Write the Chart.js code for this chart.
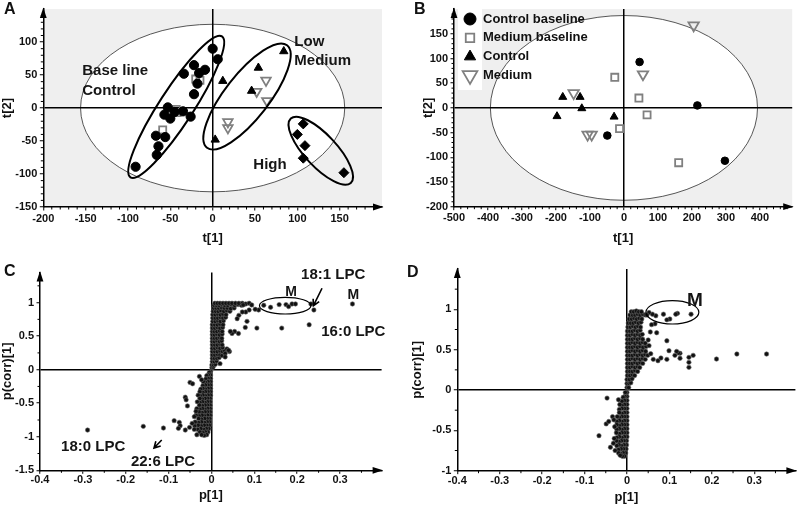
<!DOCTYPE html>
<html><head><meta charset="utf-8">
<script src="https://cdn.jsdelivr.net/npm/chart.js@4.4.0/dist/chart.umd.min.js"></script>
<style>
html,body{margin:0;padding:0;background:#fff;}
#wrap{position:relative;width:800px;height:508px;overflow:hidden;background:#fff;}
canvas{position:absolute;}
</style></head><body>
<div id="wrap">
<canvas id="cA" width="400" height="254" style="left:0;top:0;width:400px;height:254px"></canvas>
<canvas id="cB" width="400" height="254" style="left:400px;top:0;width:400px;height:254px"></canvas>
<canvas id="cC" width="400" height="254" style="left:0;top:254px;width:400px;height:254px"></canvas>
<canvas id="cD" width="400" height="254" style="left:400px;top:254px;width:400px;height:254px"></canvas>
</div>
<script>
// ---------- Panel A (scores t[1] / t[2]) ----------
const aCtrlBase = [[0,90],[6,74],[-9,58],[-22,65],[-16,53],[-34,52],[-18,37],[-22,21],[-53,1],[-57,-10],[-50,-16],[-35,-5],[-26,-13],[-45,-6],[-67,-42],[-56,-44],[-64,-58],[-66,-71],[-91,-89]];
const aMedBase = [[-20,44],[-15,42],[-43,-2],[-42,-7],[-59,-33]];
const aCtrl = [[84,86],[54,61],[12,41],[46,26],[3,-48]];
const aMed = [[63,42],[52,25],[64,11],[18,-21],[18,-30]];
const aHigh = [[107,-24],[100,-40],[109,-57],[107,-76],[155,-98]];
const aXTicks = [-200,-150,-100,-50,0,50,100,150];
const aYTicks = [-150,-100,-50,0,50,100];

// ---------- Panel B ----------
const bLegend = ['Control baseline','Medium baseline','Control','Medium'];
const bCtrlBase = [[46,93],[216,5],[297,-107],[-49,-56]];
const bMedBase = [[-27,62],[44,20],[68,-14],[-13,-42],[161,-111]];
const bCtrl = [[-180,22],[-129,22],[-124,-1],[-197,-17],[-29,-18]];
const bMed = [[205,167],[56,68],[-148,30],[-107,-54],[-95,-54]];
const bXTicks = [-500,-400,-300,-200,-100,0,100,200,300,400];
const bYTicks = [-200,-150,-100,-50,0,50,100,150];

// ---------- Panel C (loadings p[1] / p(corr)[1]) ----------
const cUpper = [
[0.001,0.03],[0.004,0.04],
[0.001,0.07],[0.005,0.07],[0.009,0.08],
[0.002,0.12],[0.007,0.12],[0.012,0.13],
[0.002,0.17],[0.007,0.17],[0.013,0.17],[0.018,0.18],
[0.002,0.22],[0.008,0.22],[0.014,0.23],[0.020,0.22],[0.025,0.21],
[0.002,0.27],[0.008,0.27],[0.014,0.27],[0.020,0.28],[0.026,0.27],[0.031,0.28],
[0.002,0.32],[0.008,0.32],[0.014,0.33],[0.020,0.32],[0.026,0.33],
[0.002,0.37],[0.008,0.37],[0.014,0.37],[0.020,0.38],[0.025,0.37],
[0.002,0.42],[0.007,0.42],[0.013,0.43],[0.019,0.42],[0.024,0.43],
[0.002,0.47],[0.007,0.47],[0.013,0.47],[0.019,0.48],[0.024,0.47],
[0.002,0.52],[0.007,0.52],[0.013,0.53],[0.019,0.52],[0.025,0.53],
[0.002,0.57],[0.007,0.57],[0.013,0.57],[0.019,0.58],[0.025,0.57],
[0.002,0.62],[0.008,0.62],[0.014,0.63],[0.020,0.62],[0.026,0.63],
[0.002,0.67],[0.008,0.67],[0.014,0.67],[0.020,0.68],[0.027,0.67],
[0.003,0.72],[0.009,0.72],[0.015,0.73],[0.021,0.72],[0.028,0.73],
[0.003,0.77],[0.009,0.77],[0.015,0.77],[0.021,0.78],[0.027,0.77],[0.033,0.78],
[0.003,0.82],[0.009,0.82],[0.015,0.83],[0.021,0.82],[0.027,0.83],[0.034,0.82],
[0.004,0.87],[0.010,0.87],[0.016,0.87],[0.022,0.88],[0.029,0.87],[0.036,0.88],[0.043,0.87],
[0.005,0.92],[0.011,0.92],[0.017,0.92],[0.023,0.93],[0.030,0.92],[0.037,0.92],[0.045,0.91],[0.053,0.92],
[0.006,0.96],[0.012,0.96],[0.018,0.96],[0.024,0.97],[0.031,0.96],[0.038,0.96],[0.046,0.97],[0.054,0.96],[0.062,0.97],[0.070,0.96],
[0.008,0.99],[0.014,0.99],[0.020,0.99],[0.027,0.99],[0.034,0.99],[0.041,0.99],[0.048,0.99],[0.056,0.99],[0.064,0.99],[0.072,0.99],[0.080,0.98],[0.088,0.99]
];
const cLower = [
[-0.002,-0.03],[-0.005,-0.04],
[-0.002,-0.08],[-0.007,-0.08],[-0.011,-0.09],
[-0.002,-0.13],[-0.008,-0.13],[-0.013,-0.14],
[-0.002,-0.18],[-0.008,-0.18],[-0.014,-0.19],[-0.019,-0.18],
[-0.002,-0.23],[-0.008,-0.23],[-0.014,-0.23],[-0.020,-0.24],
[-0.002,-0.28],[-0.008,-0.28],[-0.014,-0.29],[-0.020,-0.28],[-0.025,-0.29],
[-0.002,-0.33],[-0.008,-0.33],[-0.014,-0.33],[-0.020,-0.34],[-0.027,-0.33],
[-0.002,-0.38],[-0.008,-0.38],[-0.014,-0.39],[-0.020,-0.38],[-0.026,-0.39],[-0.031,-0.38],
[-0.003,-0.43],[-0.009,-0.43],[-0.015,-0.43],[-0.021,-0.44],[-0.027,-0.43],
[-0.003,-0.48],[-0.009,-0.48],[-0.015,-0.49],[-0.021,-0.48],[-0.027,-0.49],[-0.033,-0.48],
[-0.003,-0.53],[-0.009,-0.53],[-0.015,-0.53],[-0.021,-0.54],[-0.028,-0.53],
[-0.003,-0.58],[-0.009,-0.58],[-0.015,-0.59],[-0.021,-0.58],[-0.027,-0.59],[-0.034,-0.58],
[-0.003,-0.63],[-0.009,-0.63],[-0.015,-0.63],[-0.022,-0.64],[-0.029,-0.63],
[-0.003,-0.68],[-0.009,-0.68],[-0.016,-0.69],[-0.022,-0.68],[-0.029,-0.69],[-0.036,-0.68],
[-0.004,-0.73],[-0.010,-0.73],[-0.016,-0.73],[-0.023,-0.74],[-0.030,-0.73],
[-0.004,-0.78],[-0.010,-0.78],[-0.016,-0.79],[-0.023,-0.78],[-0.030,-0.79],[-0.038,-0.78],
[-0.005,-0.83],[-0.011,-0.83],[-0.017,-0.83],[-0.024,-0.84],[-0.031,-0.83],[-0.039,-0.84],
[-0.006,-0.88],[-0.012,-0.88],[-0.018,-0.89],[-0.025,-0.88],[-0.032,-0.89],
[-0.008,-0.93],[-0.014,-0.93],[-0.020,-0.94],[-0.027,-0.93],
[-0.011,-0.97],[-0.017,-0.98],[-0.023,-0.97]
];
const cScatter = [
[0.329,0.98],[0.239,0.89],[0.232,0.98],[0.228,0.67],[0.164,0.62],
[0.122,0.96],[0.138,0.93],[0.158,0.97],[0.174,0.97],[0.180,0.94],[0.188,0.98],[0.196,0.98],
[0.110,0.89],[0.102,0.90],[0.094,0.965],[0.088,0.89],[0.080,0.86],[0.074,0.965],[0.072,0.86],[0.064,0.81],[0.060,0.76],
[0.106,0.62],[0.079,0.63],[0.083,0.72],[0.063,0.54],[0.054,0.57],[0.048,0.54],[0.044,0.57],
[0.036,0.31],[0.042,0.27],[0.040,0.29],[0.032,0.24],[0.032,0.19],[0.020,0.09],
[-0.289,-0.90],[-0.159,-0.845],[-0.112,-0.87],[-0.087,-0.76],[-0.075,-0.785],[-0.073,-0.835],[-0.077,-0.875],[-0.061,-0.90],[-0.051,-0.86],[-0.045,-0.80],[-0.040,-0.70],[-0.036,-0.62],
[-0.050,-0.19],[-0.044,-0.21],[-0.061,-0.41],[-0.059,-0.45],[-0.056,-0.54],[-0.028,-0.10],[-0.023,-0.15],[-0.040,-0.89],[-0.034,-0.97]
];
const cXTicks = [-0.4,-0.3,-0.2,-0.1,0,0.1,0.2,0.3];
const cYTicks = [-1.5,-1,-0.5,0,0.5,1];

// ---------- Panel D ----------
const dUpper = [
[0.000,0.03],[0.004,0.03],
[0.000,0.08],[0.005,0.08],[0.009,0.09],
[0.000,0.13],[0.006,0.13],[0.012,0.14],
[0.001,0.18],[0.007,0.18],[0.013,0.19],[0.018,0.18],
[0.001,0.23],[0.007,0.23],[0.013,0.23],[0.019,0.24],[0.025,0.23],
[0.001,0.28],[0.007,0.28],[0.013,0.29],[0.019,0.28],[0.025,0.29],[0.030,0.28],
[0.001,0.33],[0.007,0.33],[0.013,0.33],[0.019,0.34],[0.025,0.33],[0.031,0.34],[0.037,0.33],
[0.001,0.38],[0.007,0.38],[0.013,0.39],[0.019,0.38],[0.025,0.39],[0.031,0.38],[0.037,0.39],[0.043,0.38],
[0.001,0.43],[0.007,0.43],[0.013,0.43],[0.019,0.44],[0.025,0.43],[0.031,0.44],[0.037,0.43],[0.043,0.44],[0.049,0.43],
[0.001,0.48],[0.007,0.48],[0.013,0.49],[0.019,0.48],[0.025,0.49],[0.031,0.48],[0.037,0.49],[0.044,0.48],
[0.001,0.53],[0.007,0.53],[0.013,0.53],[0.019,0.54],[0.025,0.53],[0.031,0.54],[0.038,0.53],[0.045,0.54],
[0.001,0.58],[0.007,0.58],[0.013,0.59],[0.019,0.58],[0.025,0.59],[0.031,0.58],[0.037,0.59],[0.043,0.58],
[0.001,0.63],[0.007,0.63],[0.013,0.63],[0.019,0.64],[0.025,0.63],[0.031,0.64],[0.037,0.63],
[0.001,0.68],[0.007,0.68],[0.013,0.69],[0.019,0.68],[0.025,0.69],[0.031,0.68],[0.036,0.69],
[0.001,0.73],[0.007,0.73],[0.013,0.73],[0.019,0.74],[0.025,0.73],[0.031,0.74],
[0.002,0.78],[0.008,0.78],[0.014,0.79],[0.020,0.78],[0.026,0.79],[0.032,0.78],
[0.003,0.83],[0.009,0.83],[0.015,0.83],[0.021,0.84],[0.027,0.83],[0.033,0.84],
[0.005,0.88],[0.011,0.88],[0.017,0.89],[0.023,0.88],[0.029,0.89],[0.035,0.88],
[0.007,0.93],[0.013,0.93],[0.019,0.93],[0.025,0.94],[0.031,0.93],[0.037,0.94],[0.043,0.93],
[0.010,0.97],[0.016,0.97],[0.022,0.98],[0.028,0.97],[0.034,0.97]
];
const dLower = [
[0.000,-0.03],[-0.004,-0.03],
[0.000,-0.08],[-0.005,-0.08],[-0.009,-0.09],
[0.000,-0.13],[-0.006,-0.13],[-0.012,-0.14],
[0.000,-0.18],[-0.006,-0.18],[-0.012,-0.19],[-0.017,-0.18],
[0.000,-0.23],[-0.006,-0.23],[-0.012,-0.23],[-0.018,-0.24],
[0.000,-0.28],[-0.006,-0.28],[-0.012,-0.29],[-0.018,-0.28],
[0.000,-0.33],[-0.006,-0.33],[-0.012,-0.33],[-0.018,-0.34],[-0.023,-0.33],
[0.000,-0.38],[-0.006,-0.38],[-0.012,-0.39],[-0.018,-0.38],[-0.024,-0.39],
[0.000,-0.43],[-0.006,-0.43],[-0.012,-0.43],[-0.018,-0.44],[-0.024,-0.43],
[0.000,-0.48],[-0.006,-0.48],[-0.012,-0.49],[-0.018,-0.48],[-0.024,-0.49],
[0.000,-0.53],[-0.006,-0.53],[-0.012,-0.53],[-0.018,-0.54],[-0.025,-0.53],
[0.000,-0.58],[-0.006,-0.58],[-0.012,-0.59],[-0.018,-0.58],[-0.024,-0.59],
[-0.001,-0.63],[-0.007,-0.63],[-0.013,-0.63],[-0.019,-0.64],[-0.025,-0.63],
[-0.001,-0.68],[-0.007,-0.68],[-0.013,-0.69],[-0.019,-0.68],[-0.024,-0.69],
[-0.002,-0.73],[-0.008,-0.73],[-0.014,-0.73],[-0.020,-0.74],
[-0.003,-0.78],[-0.009,-0.78],[-0.015,-0.79],[-0.020,-0.78],
[-0.006,-0.82],[-0.011,-0.82],[-0.016,-0.81]
];
const dScatter = [
[0.329,0.446],[0.259,0.446],[0.211,0.384],[0.156,0.43],[0.146,0.405],[0.146,0.343],[0.146,0.281],
[0.125,0.455],[0.121,0.46],[0.117,0.479],[0.113,0.43],[0.125,0.393],[0.099,0.487],[0.094,0.38],[0.094,0.61],
[0.080,0.397],[0.073,0.363],[0.062,0.38],[0.070,0.71],[0.055,0.72],[0.066,0.82],[0.058,0.81],
[0.052,0.55],[0.056,0.45],[0.050,0.62],
[0.151,0.94],[0.119,0.95],[0.115,0.94],[0.101,0.88],[0.094,0.87],[0.086,0.94],[0.068,0.92],[0.060,0.94],[0.052,0.96],[0.047,0.93],
[-0.047,-0.10],[-0.066,-0.566],[-0.039,-0.71],[-0.049,-0.42],[-0.043,-0.39],[-0.034,-0.33],[-0.031,-0.37],[-0.029,-0.455],
[-0.030,-0.60],[-0.032,-0.66],[-0.028,-0.75],[-0.020,-0.12]
];
const dXTicks = [-0.4,-0.3,-0.2,-0.1,0,0.1,0.2,0.3];
const dYTicks = [-1,-0.5,0,0.5,1];

// ---------- helpers ----------
const FONT = '"Liberation Sans", Arial, Helvetica, sans-serif';
Chart.defaults.font.family = FONT;
Chart.defaults.color = '#111';

function pts(arr){ return arr.map(p => ({x:p[0], y:p[1]})); }

function drawMinor(ctx, scale, step, major, horizontal, a) {
  const n = Math.round((scale.max - scale.min) / step);
  for (let i = 1; i < n; i++) {
    const v = scale.min + i * step;
    const r = v / major;
    if (Math.abs(r - Math.round(r)) < 1e-6) continue;
    const p = scale.getPixelForValue(v);
    if (horizontal) { ctx.moveTo(p, a.bottom); ctx.lineTo(p, a.bottom + 2.5); }
    else { ctx.moveTo(a.left - 2.5, p); ctx.lineTo(a.left, p); }
  }
}

function buildChart(id, datasets, o) {
  const zeroColor = c => (c.tick && Math.abs(c.tick.value) < 1e-9) ? '#000' : 'rgba(0,0,0,0)';
  const deco = {
    id: 'deco',
    beforeDraw(chart) {
      const ctx = chart.ctx, a = chart.chartArea, sx = chart.scales.x, sy = chart.scales.y;
      ctx.save();
      if (o.bg) { ctx.fillStyle = o.bg; ctx.fillRect(a.left, a.top, a.right - a.left, a.bottom - a.top); }
      if (o.hotelling) {
        const cx = sx.getPixelForValue(0), cy = sy.getPixelForValue(0);
        const rx = sx.getPixelForValue(o.hotelling[0]) - cx;
        const ry = cy - sy.getPixelForValue(o.hotelling[1]);
        ctx.beginPath(); ctx.ellipse(cx, cy, rx, ry, 0, 0, Math.PI * 2);
        ctx.fillStyle = '#fff'; ctx.fill();
        ctx.lineWidth = 0.9; ctx.strokeStyle = '#444'; ctx.stroke();
      }
      ctx.restore();
    },
    afterDatasetsDraw(chart) {
      const ctx = chart.ctx, sx = chart.scales.x, sy = chart.scales.y;
      ctx.save();
      ctx.strokeStyle = '#000';
      (o.pxEllipses || []).forEach(e => {
        ctx.beginPath();
        ctx.ellipse(sx.getPixelForValue(e.x), sy.getPixelForValue(e.y), e.a, e.b, e.rot * Math.PI / 180, 0, Math.PI * 2);
        ctx.lineWidth = e.lw; ctx.stroke();
      });
      (o.dataEllipses || []).forEach(e => {
        const cx = sx.getPixelForValue(e.x), cy = sy.getPixelForValue(e.y);
        const rx = Math.abs(sx.getPixelForValue(e.x + e.rx) - cx), ry = Math.abs(sy.getPixelForValue(e.y + e.ry) - cy);
        ctx.beginPath(); ctx.ellipse(cx, cy, rx, ry, 0, 0, Math.PI * 2);
        ctx.lineWidth = e.lw; ctx.stroke();
      });
      (o.arrows || []).forEach(ar => {
        const x1 = sx.getPixelForValue(ar.x1), y1 = sy.getPixelForValue(ar.y1);
        const x2 = sx.getPixelForValue(ar.x2), y2 = sy.getPixelForValue(ar.y2);
        const ang = Math.atan2(y2 - y1, x2 - x1), L = 7;
        ctx.lineWidth = 1.6; ctx.beginPath();
        ctx.moveTo(x1, y1); ctx.lineTo(x2, y2);
        ctx.moveTo(x2 - L * Math.cos(ang - 0.5), y2 - L * Math.sin(ang - 0.5));
        ctx.lineTo(x2, y2);
        ctx.lineTo(x2 - L * Math.cos(ang + 0.5), y2 - L * Math.sin(ang + 0.5));
        ctx.stroke();
      });
      (o.labels || []).forEach(l => {
        ctx.font = 'bold ' + l.size + 'px ' + FONT;
        ctx.fillStyle = '#151515'; ctx.textAlign = l.align || 'center'; ctx.textBaseline = 'middle';
        ctx.fillText(l.text, sx.getPixelForValue(l.x), sy.getPixelForValue(l.y));
      });
      ctx.restore();
    },
    afterDraw(chart) {
      const ctx = chart.ctx, a = chart.chartArea, sx = chart.scales.x, sy = chart.scales.y;
      ctx.save();
      ctx.strokeStyle = '#000'; ctx.lineWidth = 1;
      ctx.beginPath();
      drawMinor(ctx, sx, o.xMinor, o.xMajor, true, a);
      drawMinor(ctx, sy, o.yMinor, o.yMajor, false, a);
      ctx.stroke();
      ctx.fillStyle = '#000';
      ctx.beginPath();
      ctx.moveTo(a.left, a.top - 1.5); ctx.lineTo(a.left - 3.4, a.top + 9); ctx.lineTo(a.left + 3.4, a.top + 9);
      ctx.closePath(); ctx.fill();
      ctx.beginPath();
      ctx.moveTo(a.right + 1.5, a.bottom); ctx.lineTo(a.right - 9, a.bottom - 3.4); ctx.lineTo(a.right - 9, a.bottom + 3.4);
      ctx.closePath(); ctx.fill();
      if (o.legend) {
        const L = o.legend;
        ctx.fillStyle = '#fff'; ctx.fillRect(L.box[0], L.box[1], L.box[2], L.box[3]);
        chart.data.datasets.forEach((ds, i) => {
          const y = L.y0 + i * L.dy;
          ctx.fillStyle = ds.pointBackgroundColor; ctx.strokeStyle = ds.pointBorderColor; ctx.lineWidth = ds.pointBorderWidth;
          if (Chart.helpers && Chart.helpers.drawPoint) {
            Chart.helpers.drawPoint(ctx, {pointStyle: ds.pointStyle, radius: L.r[i], rotation: ds.pointRotation || 0, borderWidth: ds.pointBorderWidth}, L.symX, y);
          }
          ctx.fillStyle = '#111'; ctx.font = 'bold 13px ' + FONT; ctx.textAlign = 'left'; ctx.textBaseline = 'middle';
          ctx.fillText(ds.label, L.textX, y);
        });
      }
      if (o.letter) {
        ctx.fillStyle = '#111'; ctx.font = 'bold 16px ' + FONT; ctx.textAlign = 'left'; ctx.textBaseline = 'alphabetic';
        ctx.fillText(o.letter[0], o.letter[1], o.letter[2]);
      }
      ctx.restore();
    }
  };
  const tickFont = {size: 11, weight: 'bold'};
  const titleFont = {size: 13, weight: 'bold'};
  return new Chart(document.getElementById(id), {
    type: 'scatter',
    data: {datasets},
    options: {
      responsive: false, animation: false,
      layout: {padding: o.padding},
      plugins: {legend: {display: false}, tooltip: {enabled: false}},
      scales: {
        x: {
          type: 'linear', min: o.xMin, max: o.xMax,
          afterBuildTicks: s => { s.ticks = o.xTicks.map(v => ({value: v})); },
          afterFit: s => { s.height = o.xHeight; },
          grid: {color: zeroColor, lineWidth: 1.5, drawTicks: true, tickLength: 3.5, tickColor: '#000', tickWidth: 1},
          border: {display: true, color: '#000', width: 1.5},
          ticks: {font: tickFont, color: '#111', padding: o.xTickPad, maxRotation: 0, autoSkip: false, callback: v => String(v)},
          title: {display: true, text: o.xTitle, font: titleFont, color: '#111', padding: {top: 0, bottom: o.xTitlePad}}
        },
        y: {
          type: 'linear', min: o.yMin, max: o.yMax,
          afterBuildTicks: s => { s.ticks = o.yTicks.map(v => ({value: v})); },
          afterFit: s => { s.width = o.yWidth; },
          grid: {color: zeroColor, lineWidth: 1.5, drawTicks: true, tickLength: 3.5, tickColor: '#000', tickWidth: 1},
          border: {display: true, color: '#000', width: 1.5},
          ticks: {font: tickFont, color: '#111', padding: 2.5, autoSkip: false, callback: v => String(v)},
          title: {display: true, text: o.yTitle, font: titleFont, color: '#111', padding: {top: o.yTitlePad, bottom: 0}}
        }
      }
    },
    plugins: [deco]
  });
}

function groupDs(label, arr, style) {
  return Object.assign({label, data: pts(arr)}, style);
}
const sCircle = r => ({pointStyle: 'circle', pointRadius: r, pointBackgroundColor: '#000', pointBorderColor: '#000', pointBorderWidth: 1});
const sSquare = r => ({pointStyle: 'rect', pointRadius: r, pointBackgroundColor: 'rgba(0,0,0,0)', pointBorderColor: '#808080', pointBorderWidth: 1.8});
const sTri = r => ({pointStyle: 'triangle', pointRadius: r, pointBackgroundColor: '#000', pointBorderColor: '#000', pointBorderWidth: 1});
const sInv = r => ({pointStyle: 'triangle', pointRotation: 180, pointRadius: r, pointBackgroundColor: 'rgba(0,0,0,0)', pointBorderColor: '#808080', pointBorderWidth: 1.8});
const sDiam = r => ({pointStyle: 'rectRot', pointRadius: r, pointBackgroundColor: '#000', pointBorderColor: '#000', pointBorderWidth: 1});
const sDot = {pointStyle: 'circle', pointRadius: 2.2, pointBackgroundColor: '#111', pointBorderColor: '#666', pointBorderWidth: 0.6};

// Panel A
buildChart('cA', [
  groupDs('Control baseline', aCtrlBase, sCircle(4.6)),
  groupDs('Medium baseline', aMedBase, sSquare(5)),
  groupDs('Control', aCtrl, sTri(4.8)),
  groupDs('Medium', aMed, sInv(5.5)),
  groupDs('High', aHigh, sDiam(5))
], {
  xMin: -200, xMax: 200, yMin: -150, yMax: 150, xTicks: aXTicks, yTicks: aYTicks,
  xMinor: 10, xMajor: 50, yMinor: 10, yMajor: 50,
  padding: {left: 0, top: 6.3, right: 18, bottom: 0}, yWidth: 43.3, xHeight: 47,
  xTickPad: 1.5, xTitle: 't[1]', yTitle: 't[2]', xTitlePad: 8.2, yTitlePad: 0,
  bg: '#efefef', hotelling: [156, 127],
  pxEllipses: [
    {x: -43, y: 1.8, a: 84, b: 17, rot: -57, lw: 2},
    {x: 40.6, y: 17.5, a: 65, b: 22, rot: -52, lw: 2},
    {x: 127.7, y: -64.7, a: 44, b: 16, rot: 47, lw: 2}
  ],
  labels: [
    {text: 'Base line', x: -154, y: 56, size: 15, align: 'left'},
    {text: 'Control', x: -154, y: 26.5, size: 15, align: 'left'},
    {text: 'Low', x: 96.5, y: 101, size: 15, align: 'left'},
    {text: 'Medium', x: 96.5, y: 71, size: 15, align: 'left'},
    {text: 'High', x: 48, y: -85.6, size: 15, align: 'left'}
  ],
  letter: ['A', 4, 14]
});

// Panel B
buildChart('cB', [
  groupDs(bLegend[0], bCtrlBase, sCircle(3.8)),
  groupDs(bLegend[1], bMedBase, sSquare(5)),
  groupDs(bLegend[2], bCtrl, sTri(4.6)),
  groupDs(bLegend[3], bMed, sInv(6))
], {
  xMin: -500, xMax: 495, yMin: -200, yMax: 200, xTicks: bXTicks, yTicks: bYTicks,
  xMinor: 20, xMajor: 100, yMinor: 10, yMajor: 50,
  padding: {left: 0, top: 6.5, right: 5.7, bottom: 0}, yWidth: 54, xHeight: 47.3,
  xTickPad: 1.5, xTitle: 't[1]', yTitle: 't[2]', xTitlePad: 8.2, yTitlePad: 20.7,
  bg: '#efefef', hotelling: [393, 187],
  legend: {box: [58, 7, 24, 83], symX: 70, textX: 83, y0: 19, dy: 18.8, r: [6, 6, 6.5, 8.5]},
  letter: ['B', 14, 14]
});

// Panel C
buildChart('cC', [
  Object.assign({label: 'variables', data: pts(cUpper.concat(cLower, cScatter))}, sDot)
], {
  xMin: -0.4, xMax: 0.397, yMin: -1.5, yMax: 1.45, xTicks: cXTicks, yTicks: cYTicks,
  xMinor: 0.05, xMajor: 0.1, yMinor: 0.25, yMajor: 0.5,
  padding: {left: 0, top: 18.4, right: 18.4, bottom: 0}, yWidth: 40, xHeight: 37.7,
  xTickPad: 0, xTitle: 'p[1]', yTitle: 'p(corr)[1]', xTitlePad: 5.2, yTitlePad: 0,
  dataEllipses: [{x: 0.172, y: 0.954, rx: 0.060, ry: 0.124, lw: 1.2}],
  arrows: [
    {x1: 0.258, y1: 1.214, x2: 0.238, y2: 0.954},
    {x1: -0.116, y1: -1.048, x2: -0.134, y2: -1.168}
  ],
  labels: [
    {text: '18:1 LPC', x: 0.284, y: 1.41, size: 15},
    {text: 'M', x: 0.186, y: 1.154, size: 14},
    {text: 'M', x: 0.331, y: 1.118, size: 14},
    {text: '16:0 LPC', x: 0.331, y: 0.562, size: 15},
    {text: '18:0 LPC', x: -0.276, y: -1.153, size: 15},
    {text: '22:6 LPC', x: -0.113, y: -1.376, size: 15}
  ],
  letter: ['C', 4, 22]
});

// Panel D
buildChart('cD', [
  Object.assign({label: 'variables', data: pts(dUpper.concat(dLower, dScatter))}, sDot)
], {
  xMin: -0.4, xMax: 0.397, yMin: -1, yMax: 1.5, xTicks: dXTicks, yTicks: dYTicks,
  xMinor: 0.05, xMajor: 0.1, yMinor: 0.25, yMajor: 0.5,
  padding: {left: 0, top: 15, right: 2, bottom: 0}, yWidth: 57.3, xHeight: 37.3,
  xTickPad: 0, xTitle: 'p[1]', yTitle: 'p(corr)[1]', xTitlePad: 3.2, yTitlePad: 9.5,
  dataEllipses: [{x: 0.107, y: 0.963, rx: 0.0624, ry: 0.145, lw: 1.2}],
  labels: [
    {text: 'M', x: 0.160, y: 1.107, size: 19}
  ],
  letter: ['D', 7, 23]
});
</script>
</body></html>
